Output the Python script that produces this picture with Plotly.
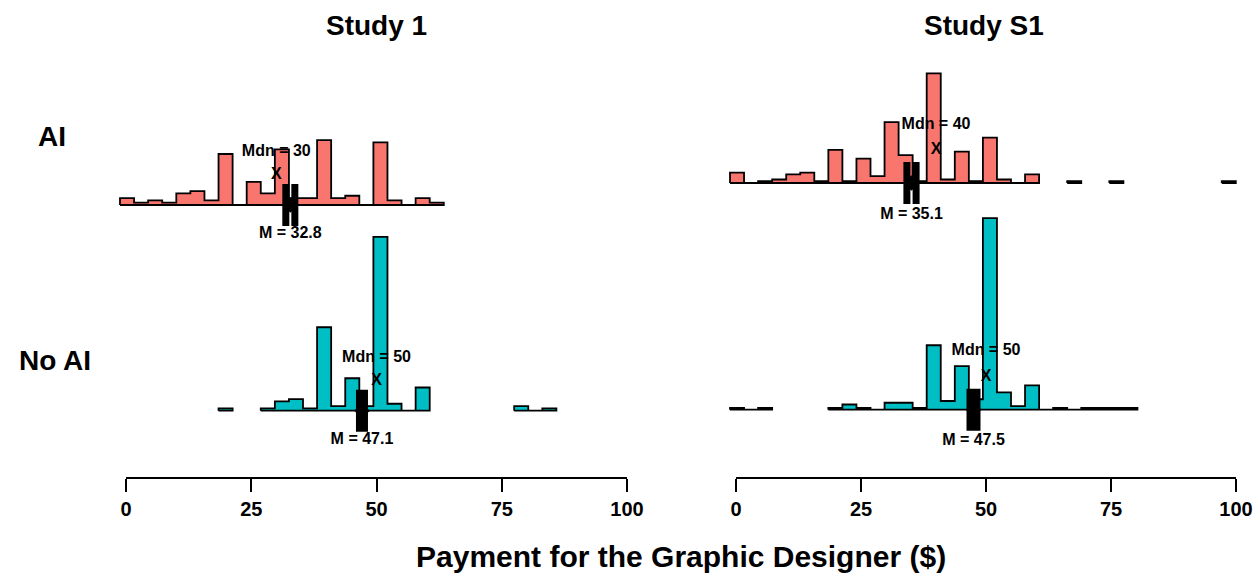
import plotly.graph_objects as go

# ---------------- data ----------------
studies = ["Study 1", "Study S1"]
conditions = ["AI", "No AI"]

# histogram bin grid (payment in $)
BIN_START = -1.2
BIN_WIDTH = 2.81

# counts per bin (index = bin number from BIN_START)
study1_ai_counts = [3, 1, 2, 1, 5, 6, 2, 22, 0, 10, 5, 24, 3, 3, 28, 3, 4, 0, 27, 2, 0, 3, 1]
study1_noai_counts = [0, 0, 0, 0, 0, 0, 0, 1, 0, 0, 1, 4, 5, 1, 36, 2, 14, 2, 75, 3, 0, 10,
                      0, 0, 0, 0, 0, 0, 2, 0, 1]
studyS1_ai_counts = [6, 0, 1, 2, 5, 6, 1, 19, 1, 14, 4, 35, 16, 1, 63, 2, 18, 1, 26, 2, 0, 5,
                     0, 0, 1, 0, 0, 1, 0, 0, 0, 0, 0, 0, 0, 1]
studyS1_noai_counts = [1, 0, 1, 0, 0, 0, 0, 1, 3, 1, 0, 4, 4, 1, 37, 5, 25, 6, 110, 10, 2, 14,
                       0, 1, 0, 1, 1, 1, 1]

study1_means = [32.8, 47.1]
study1_medians = [30, 50]
study1_se = [0.9, 0.5]
studyS1_means = [35.1, 47.5]
studyS1_medians = [40, 50]
studyS1_se = [0.92, 0.7]

tick_values = [0, 25, 50, 75, 100]
x_title = "Payment for the Graphic Designer ($)"

# ---------------- style ----------------
W, H = 1260, 579
FONT = "Liberation Sans, Arial, sans-serif"
COLORS = {"AI": "#F8766D", "No AI": "#00BFC4"}
SCALE = 0.845  # tallest ridge height relative to row spacing
BASE = {"AI": 2, "No AI": 1}

panels = [
    dict(name=studies[0], counts={"AI": study1_ai_counts, "No AI": study1_noai_counts},
         means=study1_means, medians=study1_medians, se=study1_se,
         xa="x", ya="y", tick_xa="x3", x0px=126, x100px=627, y2px=205.0, y1px=410.7,
         dom_px=(0, 655)),
    dict(name=studies[1], counts={"AI": studyS1_ai_counts, "No AI": studyS1_noai_counts},
         means=studyS1_means, medians=studyS1_medians, se=studyS1_se,
         xa="x2", ya="y2", tick_xa="x4", x0px=736, x100px=1236, y2px=183.0, y1px=409.7,
         dom_px=(665, 1260)),
]


def segments(counts):
    """Group non-empty bins; a run of 2+ empty bins breaks the outline."""
    idx = [i for i, c in enumerate(counts) if c > 0]
    segs, cur = [], []
    for i in idx:
        if cur and i - cur[-1] > 2:
            segs.append((cur[0], cur[-1]))
            cur = []
        cur.append(i)
    if cur:
        segs.append((cur[0], cur[-1]))
    return segs


def edge(k):
    return BIN_START + BIN_WIDTH * k


fig = go.Figure()
layout_axes = {}

for p in panels:
    pmax = max(max(p["counts"]["AI"]), max(p["counts"]["No AI"]))
    for cond in conditions:
        counts = p["counts"][cond]
        b = BASE[cond]
        for i0, i1 in segments(counts):
            xs, ys = [edge(i0)], [b]
            for k in range(i0, i1 + 1):
                h = b + counts[k] / pmax * SCALE
                xs += [edge(k), edge(k + 1)]
                ys += [h, h]
            xs += [edge(i1 + 1), edge(i0)]
            ys += [b, b]
            fig.add_trace(go.Scatter(
                x=xs, y=ys, mode="lines", fill="toself", fillcolor=COLORS[cond],
                line=dict(color="black", width=1.8), xaxis=p["xa"], yaxis=p["ya"],
                hoverinfo="skip", showlegend=False))
    # mean error bars, labels, medians
    for j, cond in enumerate(conditions):
        b = BASE[cond]
        m, md, se = p["means"][j], p["medians"][j], p["se"][j]
        fig.add_trace(go.Scatter(
            x=[m], y=[b], mode="markers",
            marker=dict(size=12, symbol="diamond", color="black", line=dict(width=0)),
            error_x=dict(type="data", array=[se], symmetric=True, thickness=7,
                         width=21, color="black"),
            xaxis=p["xa"], yaxis=p["ya"], hoverinfo="skip", showlegend=False))
        fig.add_trace(go.Scatter(
            x=[m, md, md], y=[b - 0.14, b + 0.145, b + 0.258],
            text=[f"M = {m}", "X", f"Mdn = {md}"], mode="text",
            textposition="middle center",
            textfont=dict(family=FONT, size=16, color="black", weight="bold"),
            xaxis=p["xa"], yaxis=p["ya"], hoverinfo="skip", showlegend=False))
    # invisible trace to host the tick axis
    fig.add_trace(go.Scatter(x=[tick_values[0], tick_values[-1]], y=[1, 1], mode="lines",
                             line=dict(width=0), opacity=0, xaxis=p["tick_xa"],
                             yaxis=p["ya"], hoverinfo="skip", showlegend=False))

    ppu_x = (p["x100px"] - p["x0px"]) / 100.0
    d0, d1 = p["dom_px"]
    xr = [(d0 - p["x0px"]) / ppu_x, (d1 - p["x0px"]) / ppu_x]
    ppu_y = p["y1px"] - p["y2px"]
    yr = [1 - (H - p["y1px"]) / ppu_y, 2 + p["y2px"] / ppu_y]
    xkey = "xaxis" if p["xa"] == "x" else "xaxis" + p["xa"][1:]
    ykey = "yaxis" if p["ya"] == "y" else "yaxis" + p["ya"][1:]
    tkey = "xaxis" + p["tick_xa"][1:]
    layout_axes[xkey] = dict(domain=[d0 / W, d1 / W], range=xr, visible=False,
                             anchor=p["ya"], fixedrange=True)
    layout_axes[ykey] = dict(domain=[0, 1], range=yr, visible=False,
                             anchor=p["xa"], fixedrange=True)
    layout_axes[tkey] = dict(
        domain=[p["x0px"] / W, p["x100px"] / W], range=[0, 100], anchor="free",
        position=1 - 477.5 / H, showline=True, linecolor="black", linewidth=2,
        ticks="outside", ticklen=13, tickwidth=2, tickcolor="black",
        tickvals=tick_values, ticktext=[str(v) for v in tick_values],
        tickfont=dict(family=FONT, size=20, color="black", weight="bold"),
        showgrid=False, zeroline=False, fixedrange=True, automargin=False)

annotations = [
    dict(text=studies[0], x=376 / W, y=1 - 25 / H),
    dict(text=studies[1], x=984 / W, y=1 - 25 / H),
    dict(text=conditions[0], x=52 / W, y=1 - 136 / H),
    dict(text=conditions[1], x=55 / W, y=1 - 360 / H),
    dict(text=x_title, x=681 / W, y=1 - 556 / H, size=30),
]
ann = []
for a in annotations:
    ann.append(dict(text=a["text"], x=a["x"], y=a["y"], xref="paper", yref="paper",
                    xanchor="center", yanchor="middle", showarrow=False,
                    font=dict(family=FONT, size=a.get("size", 28), color="black",
                              weight="bold")))

fig.update_layout(
    width=W, height=H, margin=dict(l=0, r=0, t=0, b=0, pad=0, autoexpand=False),
    paper_bgcolor="white", plot_bgcolor="rgba(0,0,0,0)",
    showlegend=False, annotations=ann, **layout_axes)

fig.write_html(
    "out.html",
    config={"responsive": False, "displayModeBar": False},
    post_script="document.body.style.margin='0';document.body.style.overflow='hidden';",
)
